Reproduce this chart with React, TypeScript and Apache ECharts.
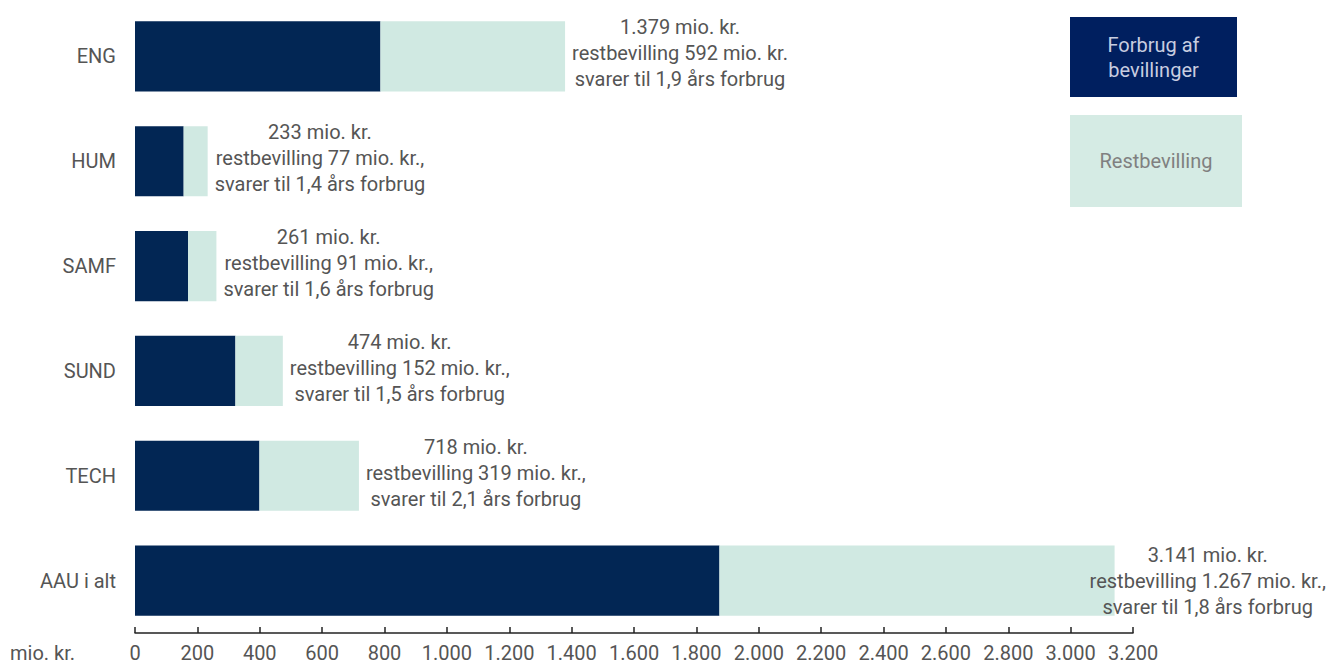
import React, { useEffect, useRef } from "react";
import * as echarts from "echarts";

const categories = ["ENG", "HUM", "SAMF", "SUND", "TECH", "AAU i alt"];
const totals = [1379, 233, 261, 474, 718, 3141];
const restValues = [592, 77, 91, 152, 319, 1267];
const yearsOfUse = ["1,9", "1,4", "1,6", "1,5", "2,1", "1,8"];
const totalTexts = ["1.379", "233", "261", "474", "718", "3.141"];
const restTexts = ["592", "77", "91", "152", "319", "1.267"];
const restSuffix = ["", ",", ",", ",", ",", ","];
const xTicks = { min: 0, max: 3200, interval: 200 };

const forbrugValues = totals.map((t, i) => t - restValues[i]);

const FONT = "Roboto";
const FS = 20;
const TEXT = "#555555";
const DARK = "#022654";
const LIGHT = "#d0e9e2";

function fmtNum(v: number): string {
  return String(v).replace(/\B(?=(\d{3})+(?!\d))/g, ".");
}

export default function App() {
  const ref = useRef<HTMLDivElement>(null);
  useEffect(() => {
    if (!ref.current) return;
    const chart = echarts.init(ref.current, undefined, { renderer: "svg" });
    const last = restValues.length - 1;
    const restData = restValues.map((v, i) =>
      i === last ? { value: v, label: { offset: [-32, 0] } } : v
    );
    chart.setOption({
      animation: false,
      textStyle: { fontFamily: FONT },
      grid: { left: 135, right: 197, top: 4, bottom: 33, containLabel: false },
      xAxis: {
        type: "value",
        min: xTicks.min,
        max: xTicks.max,
        interval: xTicks.interval,
        splitLine: { show: false },
        axisLine: { show: true, lineStyle: { color: "#222", width: 1.5 } },
        axisTick: { show: true, inside: true, length: 6, lineStyle: { color: "#222", width: 1.5 } },
        axisLabel: {
          color: TEXT,
          fontSize: FS,
          fontFamily: FONT,
          lineHeight: 16,
          margin: 12,
          formatter: (v: number) => fmtNum(v),
        },
      },
      yAxis: {
        type: "category",
        data: categories,
        inverse: true,
        axisLine: { show: false },
        axisTick: { show: false },
        axisLabel: { color: TEXT, fontSize: FS, fontFamily: FONT, margin: 19 },
      },
      series: [
        {
          name: "Forbrug af bevillinger",
          type: "bar",
          stack: "s",
          data: forbrugValues,
          itemStyle: { color: DARK },
          barCategoryGap: "33%",
        },
        {
          name: "Restbevilling",
          type: "bar",
          stack: "s",
          data: restData,
          itemStyle: { color: LIGHT },
          barCategoryGap: "33%",
          label: {
            show: true,
            position: "right",
            distance: 7,
            offset: [0, -3],
            color: TEXT,
            fontSize: FS,
            fontFamily: FONT,
            lineHeight: 26,
            formatter: (p: any) => {
              const i = p.dataIndex;
              return [
                `{a|${totalTexts[i]} mio. kr.}`,
                `{a|restbevilling ${restTexts[i]} mio. kr.${restSuffix[i]}}`,
                `{a|svarer til ${yearsOfUse[i]} års forbrug}`,
              ].join("\n");
            },
            rich: {
              a: { align: "center", color: TEXT, fontSize: FS, fontFamily: FONT, lineHeight: 26 },
            },
          },
        },
      ],
      graphic: [
        {
          type: "text",
          x: 10,
          y: 653,
          style: {
            text: "mio. kr.",
            fill: TEXT,
            font: `${FS}px ${FONT}`,
            verticalAlign: "middle",
            lineHeight: 16,
          },
        },
        {
          type: "rect",
          shape: { x: 1070, y: 17, width: 167, height: 80 },
          style: { fill: "#001f5f" },
        },
        {
          type: "text",
          x: 1153.5,
          y: 57,
          style: {
            text: "Forbrug af\nbevillinger",
            fill: "#c8cde0",
            font: `${FS}px ${FONT}`,
            align: "center",
            verticalAlign: "middle",
            lineHeight: 25,
          },
        },
        {
          type: "rect",
          shape: { x: 1070, y: 115, width: 172, height: 92 },
          style: { fill: "#d5ebe4" },
        },
        {
          type: "text",
          x: 1156,
          y: 161,
          style: {
            text: "Restbevilling",
            fill: "#808080",
            font: `${FS}px ${FONT}`,
            align: "center",
            verticalAlign: "middle",
          },
        },
      ],
    });
    return () => chart.dispose();
  }, []);
  return (
    <div style={{ position: "fixed", left: 0, top: 0, width: 1330, height: 666, overflow: "hidden", background: "#fff" }}>
      <div ref={ref} style={{ width: 1330, height: 666 }} />
    </div>
  );
}
